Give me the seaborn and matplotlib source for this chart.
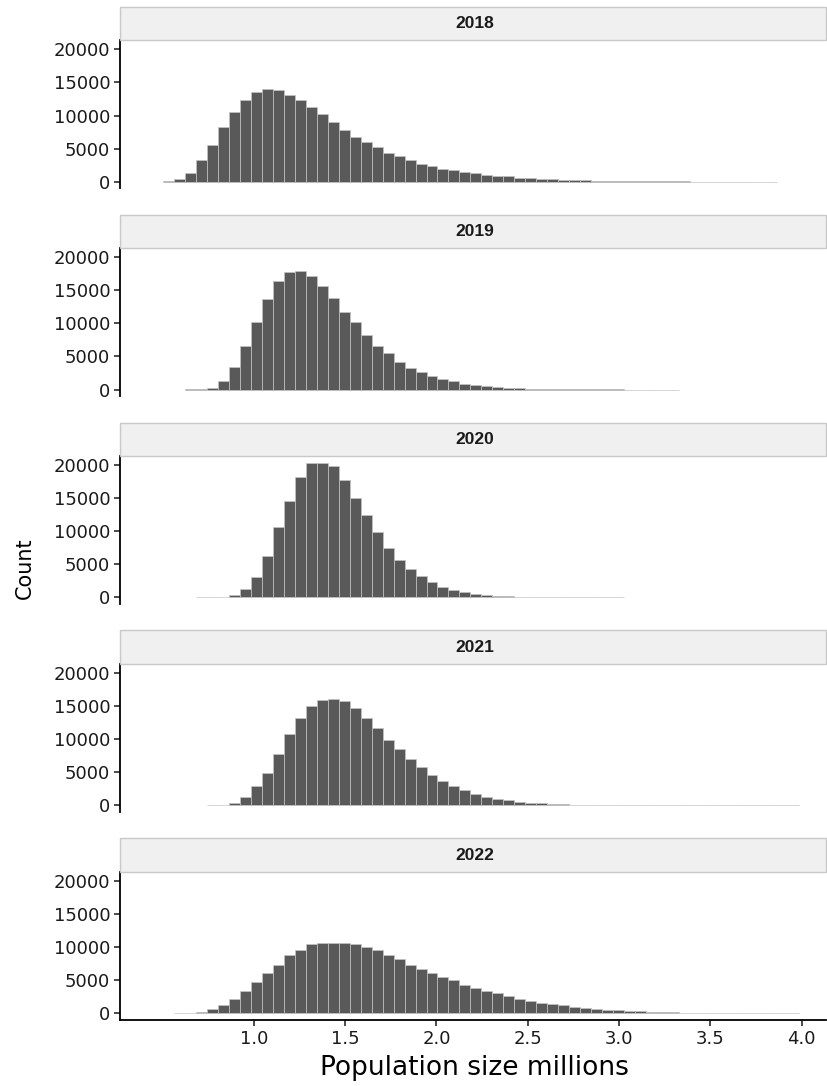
import numpy as np
import pandas as pd
import matplotlib
matplotlib.use("Agg")
import matplotlib.pyplot as plt
from matplotlib.patches import Rectangle
import seaborn as sns

# ---- data -------------------------------------------------------------
years = ["2018", "2019", "2020", "2021", "2022"]

# shared histogram bins (population size, millions)
bin_start = 0.506
bin_width = 0.06
n_bins = 58

# counts per bin, one list per year (bin 0 .. bin 57)
counts_2018 = [50, 450, 1360, 3220, 5590, 8210, 10530, 12390, 13550, 14060,
               13900, 13150, 12390, 11280, 10180, 8970, 7860, 6750, 6000, 5190,
               4380, 3930, 3220, 2720, 2420, 1960, 1710, 1510, 1260, 1060,
               910, 810, 600, 500, 450, 380, 320, 260, 215, 175,
               140, 115, 92, 74, 58, 46, 37, 30, 23, 18,
               14, 10, 8, 6, 4, 3, 0, 0]
counts_2019 = [0, 0, 20, 100, 300, 1270, 3450, 6550, 10150, 13710,
               16350, 17770, 17870, 17210, 15640, 13910, 11780, 10150, 8220, 6650,
               5530, 4160, 3300, 2640, 2080, 1620, 1220, 910, 660, 510,
               360, 250, 200, 150, 110, 80, 60, 45, 33, 24,
               17, 12, 8, 6, 4, 3, 2, 0, 0, 0,
               0, 0, 0, 0, 0, 0, 0, 0]
counts_2020 = [0, 0, 0, 5, 15, 30, 300, 1210, 3080, 6310,
               10710, 14650, 18230, 20300, 20350, 19800, 17680, 15000, 12420, 9850,
               7420, 5710, 4290, 3180, 2270, 1620, 1060, 760, 510, 300,
               200, 150, 100, 70, 50, 35, 24, 16, 10, 6,
               4, 2, 0, 0, 0, 0, 0, 0, 0, 0,
               0, 0, 0, 0, 0, 0, 0, 0]
counts_2021 = [0, 0, 0, 0, 20, 100, 400, 1320, 2890, 4960,
               7800, 10780, 13220, 15090, 15950, 16150, 15800, 14730, 13270, 11650,
               9820, 8460, 6940, 5770, 4610, 3650, 2890, 2280, 1770, 1320,
               960, 760, 560, 420, 310, 230, 170, 125, 92, 68,
               50, 37, 27, 20, 15, 11, 8, 6, 5, 4,
               3, 2, 2, 1, 1, 1, 1, 1]
counts_2022 = [0, 20, 60, 200, 610, 1310, 2220, 3330, 4750, 6060,
               7270, 8740, 9600, 10400, 10560, 10660, 10610, 10450, 10000, 9550,
               8740, 8130, 7370, 6670, 6060, 5510, 5000, 4240, 3790, 3380,
               3030, 2550, 2100, 1880, 1620, 1410, 1210, 1010, 860, 700,
               560, 450, 360, 290, 230, 180, 140, 110, 85, 65,
               50, 38, 28, 20, 14, 10, 7, 4]

y_ticks = [0, 5000, 10000, 15000, 20000]
x_ticks = [1.0, 1.5, 2.0, 2.5, 3.0, 3.5, 4.0]
x_tick_labels = ["1.0", "1.5", "2.0", "2.5", "3.0", "3.5", "4.0"]

# ---- tidy table -------------------------------------------------------
edges = bin_start + bin_width * np.arange(n_bins + 1)
centers = edges[:-1] + bin_width / 2
all_counts = [counts_2018, counts_2019, counts_2020, counts_2021, counts_2022]
rows = []
for yr, cnts in zip(years, all_counts):
    for k, c in enumerate(cnts):
        if c > 0:
            rows.append({"year": yr, "bin": k, "size": centers[k], "count": c})
df = pd.DataFrame(rows)

# ---- figure -----------------------------------------------------------
sns.set_style("white")
plt.rcParams["font.family"] = ["DejaVu Sans"]

W, H = 827, 1086
fig = plt.figure(figsize=(W / 100, H / 100), dpi=100)

left_px, right_px = 120, 826
panel_top0, panel_h, step = 40.3, 148.1, 207.9
strip_h = 33.6

for i, yr in enumerate(years):
    top = panel_top0 + step * i
    ax = fig.add_axes([left_px / W, 1 - (top + panel_h) / H,
                       (right_px - left_px) / W, panel_h / H])
    sub = df[df["year"] == yr]
    lo, hi = int(sub["bin"].min()), int(sub["bin"].max())
    year_edges = [float(e) for e in edges[lo:hi + 2]]
    sns.histplot(data=sub, x="size", weights="count", bins=year_edges,
                 color="#595959", edgecolor="#c4c4c4", linewidth=0.5,
                 alpha=1, ax=ax)
    ax.set_xlim(0.268, 4.133)
    ax.set_ylim(-1017, 21367)
    ax.set_xlabel("")
    ax.set_ylabel("")
    ax.set_yticks(y_ticks)
    ax.set_yticklabels([str(v) for v in y_ticks])
    for s in ["top", "right"]:
        ax.spines[s].set_visible(False)
    ax.spines["left"].set_color("black")
    ax.spines["left"].set_linewidth(1.3)
    ax.tick_params(axis="y", left=True, length=4, width=1.1, pad=3,
                   labelsize=13, colors="#1a1a1a")
    if i == len(years) - 1:
        ax.spines["bottom"].set_color("black")
        ax.spines["bottom"].set_linewidth(1.3)
        ax.set_xticks(x_ticks)
        ax.set_xticklabels(x_tick_labels)
        ax.tick_params(axis="x", bottom=True, length=4, width=1.1, pad=3,
                       labelsize=13, colors="#1a1a1a")
    else:
        ax.spines["bottom"].set_visible(False)
        ax.tick_params(axis="x", bottom=False, labelbottom=False)

    # facet strip
    s_top = top - strip_h
    fig.add_artist(Rectangle((left_px / W, 1 - top / H),
                             (right_px - left_px) / W, strip_h / H,
                             transform=fig.transFigure, facecolor="#f0f0f0",
                             edgecolor="#c8c8c8", linewidth=1.0))
    fig.text((left_px + right_px) / 2 / W + 0.002, 1 - (s_top + strip_h / 2) / H,
             yr, ha="center", va="center", fontsize=12.5, fontweight="bold",
             color="#1a1a1a", family=["Liberation Sans", "DejaVu Sans"])

fig.text(25 / W, 1 - 568 / H, "Count", rotation=90, ha="center", va="center",
         fontsize=15, color="black")
fig.text(474 / W, 1 - 1068 / H, "Population size millions", ha="center",
         va="center", fontsize=19, color="black")

fig.savefig("out.png", dpi=100)
